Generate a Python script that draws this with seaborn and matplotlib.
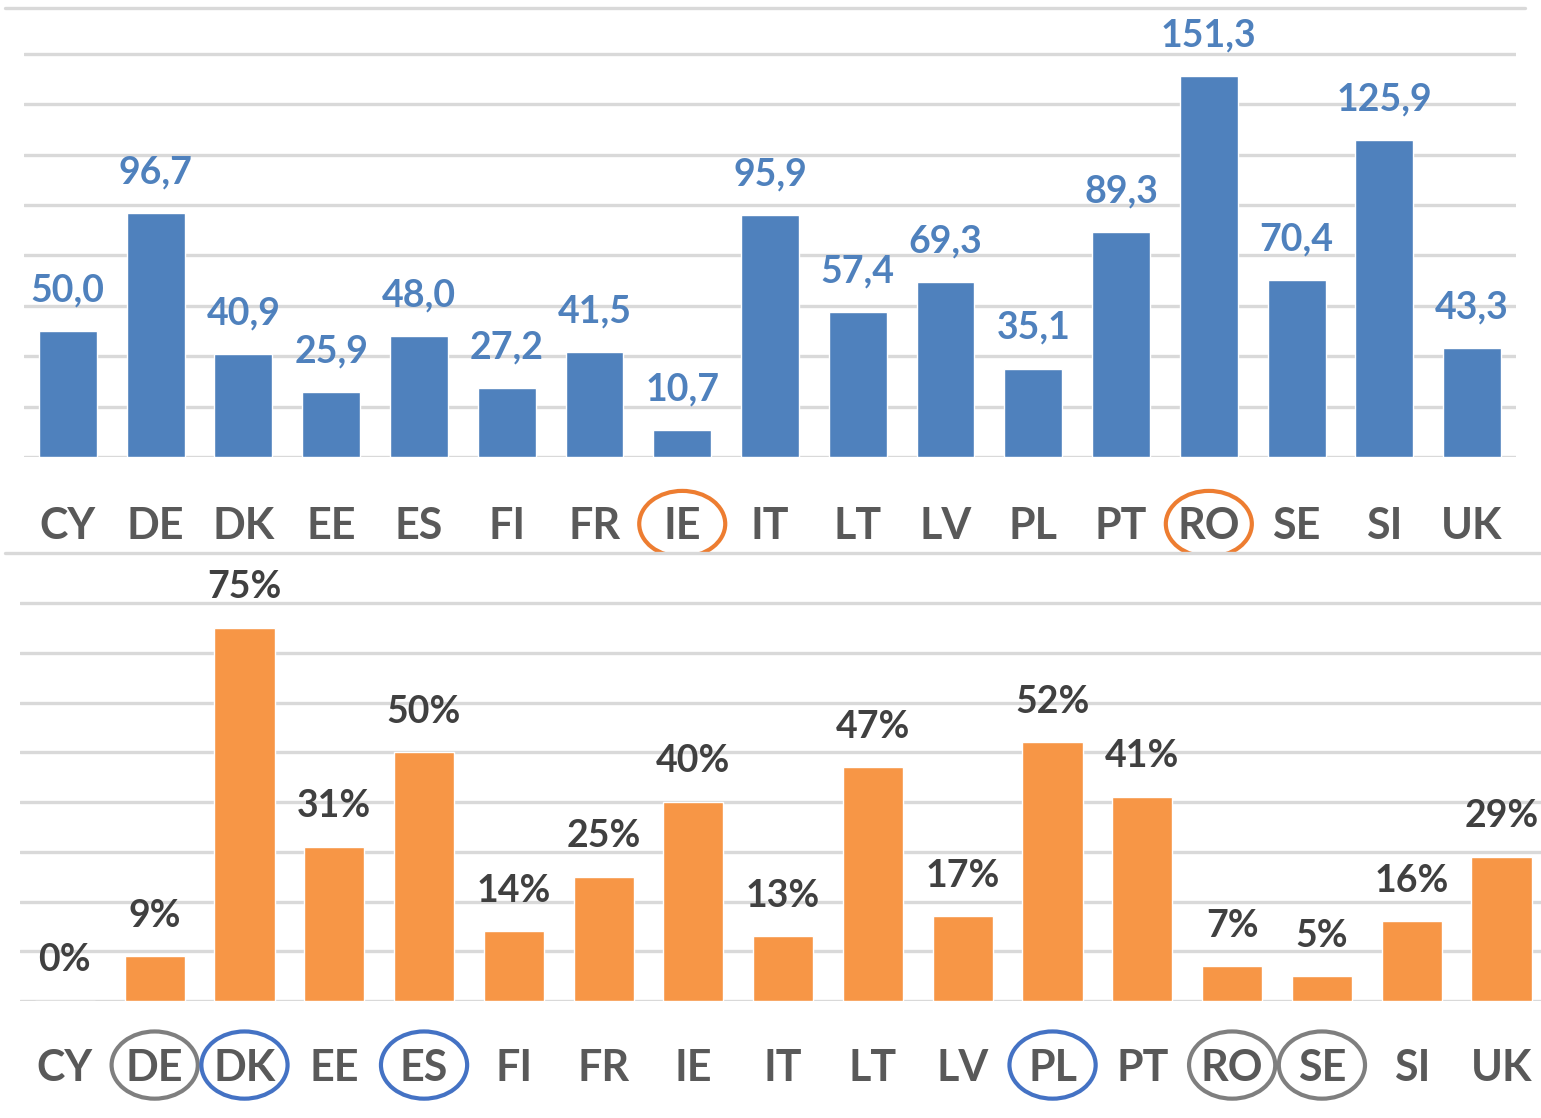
import numpy as np
import pandas as pd
import seaborn as sns
import matplotlib.pyplot as plt
from matplotlib.patches import Ellipse
from matplotlib.lines import Line2D
from matplotlib.transforms import blended_transform_factory

# data
countries = ["CY", "DE", "DK", "EE", "ES", "FI", "FR", "IE", "IT",
             "LT", "LV", "PL", "PT", "RO", "SE", "SI", "UK"]
top_values = [50.0, 96.7, 40.9, 25.9, 48.0, 27.2, 41.5, 10.7, 95.9,
              57.4, 69.3, 35.1, 89.3, 151.3, 70.4, 125.9, 43.3]
bottom_pct = [0, 9, 75, 31, 50, 14, 25, 40, 13, 47, 17, 52, 41, 7, 5, 16, 29]

# circled labels
top_circles = {"IE": "#ED7D31", "RO": "#ED7D31"}
bottom_circles = {"DE": "#7F7F7F", "DK": "#4472C4", "ES": "#4472C4",
                  "PL": "#4472C4", "RO": "#7F7F7F", "SE": "#7F7F7F"}

sns.set_style("white")
plt.rcParams['font.family'] = ['Lato', 'DejaVu Sans']

BLUE = "#4F81BD"
ORANGE = "#F79646"
GRID = "#D9D9D9"
TXT = "#595959"

fig = plt.figure(figsize=(15.41, 11.18), dpi=100)
W, H = 1541, 1118

ax1 = fig.add_axes([24 / W, 1 - 457 / H, 1492 / W, 449 / H])
ax2 = fig.add_axes([20 / W, 1 - 1001 / H, 1521 / W, 448 / H])

df_top = pd.DataFrame({"country": countries, "value": top_values})
df_bot = pd.DataFrame({"country": countries, "pct": bottom_pct})

sns.barplot(data=df_top, x="country", y="value", color=BLUE, saturation=1,
            width=0.66, ax=ax1, zorder=3)
sns.barplot(data=df_bot, x="country", y="pct", color=ORANGE, saturation=1,
            width=0.67, ax=ax2, zorder=3)

ax1.bar_label(ax1.containers[0],
              labels=[f"{v:.1f}".replace(".", ",") for v in top_values],
              padding=17, fontsize=27, fontweight="bold", color="#4F81BD")
ax2.bar_label(ax2.containers[0], labels=[f"{v}%" for v in bottom_pct],
              padding=17, fontsize=27, fontweight="bold", color="#404040")

ax1.set_ylim(0, 449 / 2.519)
ax1.set_xlim(-0.5, 16.5)
ax1.set_yticks(np.arange(0, 161, 20))
ax2.set_ylim(0, 448 / 4.975)
ax2.set_xlim(-0.5, 16.44)
ax2.set_yticks(np.arange(0, 81, 10))

for ax, pad in ((ax1, 35), (ax2, 34)):
    ax.set_xlabel("")
    ax.set_ylabel("")
    ax.set_yticklabels([])
    ax.yaxis.grid(True, color=GRID, linewidth=2.4, zorder=0)
    ax.set_axisbelow(True)
    for s in ax.spines.values():
        s.set_visible(False)
    ax.tick_params(axis="x", length=0, pad=pad, labelsize=31, labelcolor=TXT)
    ax.tick_params(axis="y", length=0)
    for lab in ax.get_xticklabels():
        lab.set_fontweight("bold")

# circles round some category labels
for ax, circles, w, yc, h in ((ax1, top_circles, 0.98, -0.149, 0.147),
                              (ax2, bottom_circles, 0.96, -0.143, 0.15)):
    tr = blended_transform_factory(ax.transData, ax.transAxes)
    for c, col in circles.items():
        i = countries.index(c)
        ax.add_patch(Ellipse((i, yc), w, h, transform=tr, fill=False,
                             edgecolor=col, linewidth=3, clip_on=False))

# frame line on top and separator between the panels
fig.add_artist(Line2D([5 / W, 1525 / W], [1 - 8 / H, 1 - 8 / H],
                      color=GRID, linewidth=2.4))
fig.add_artist(Line2D([5 / W, 1540 / W], [1 - 553 / H, 1 - 553 / H],
                      color=GRID, linewidth=2.4))

fig.savefig("out.png", dpi=100)
